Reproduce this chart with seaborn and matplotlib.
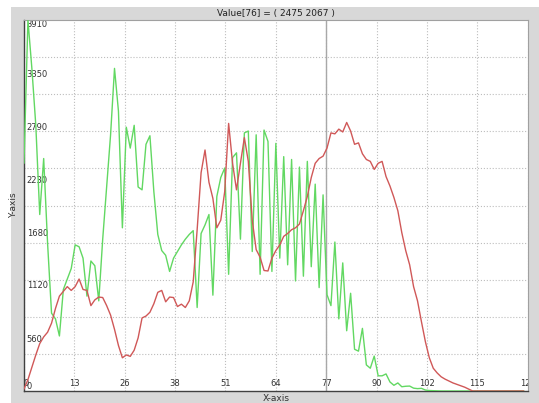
import numpy as np
import pandas as pd
import matplotlib
matplotlib.use("Agg")
import matplotlib.pyplot as plt
from matplotlib.patches import Rectangle
import seaborn as sns

# histogram values, one per bin (0..127)
red = [20, 120, 250, 380, 500, 570, 620, 715, 870, 1000,
       1050, 1100, 1060, 1100, 1180, 1070, 1060, 900, 960, 990,
       985, 900, 800, 650, 480, 350, 380, 365, 430, 560,
       770, 790, 830, 920, 1040, 1060, 940, 990, 985, 890,
       915, 880, 950, 1150, 1700, 2300, 2540, 2200, 2030, 1720,
       1800, 2100, 2820, 2400, 2120, 2400, 2670, 2420, 1800, 1490,
       1410, 1270, 1265, 1400, 1480, 1540, 1630, 1660, 1700, 1720,
       1760, 1900, 2050, 2250, 2400, 2450, 2475, 2560, 2720, 2710,
       2760, 2730, 2830, 2740, 2600, 2615, 2500, 2440, 2420, 2335,
       2400, 2420, 2260, 2160, 2040, 1900, 1670, 1480, 1330, 1100,
       950, 730, 520, 350, 240, 190, 150, 125, 105, 85,
       70, 55, 40, 20, 0, 0, 0, 0, 0, 0,
       0, 0, 0, 0, 0, 0, 0, 0]

green = [2400, 3910, 3400, 2800, 1860, 2450, 1550, 820, 760, 580,
         1070, 1180, 1290, 1540, 1520, 1400, 1000, 1370, 1320, 950,
         1600, 2150, 2700, 3400, 2950, 1720, 2780, 2560, 2800, 2150,
         2120, 2600, 2690, 2100, 1650, 1480, 1430, 1260, 1400, 1470,
         1540, 1600, 1650, 1690, 880, 1660, 1750, 1860, 1010, 2050,
         2250, 2350, 1230, 2460, 2510, 1600, 2720, 2740, 1470, 2700,
         1230, 2750, 2630, 1260, 2610, 1400, 2470, 1330, 2440, 1160,
         2360, 1210, 2420, 1310, 2180, 1090, 2067, 1015, 900, 1570,
         760, 1350, 635, 1030, 440, 420, 660, 275, 240, 368,
         160, 160, 180, 95, 60, 85, 45, 50, 52, 30,
         25, 28, 10, 5, 3, 2, 0, 0, 0, 0,
         0, 0, 0, 0, 0, 0, 0, 0, 0, 0,
         0, 0, 0, 0, 0, 0, 0, 0]

x_max = 128
y_max = 3910
cursor = 76
x_tick_labels = ["0", "13", "26", "38", "51", "64", "77", "90", "102", "115", "128"]
y_tick_labels = ["0", "560", "1120", "1680", "2230", "2790", "3350", "3910"]

df = pd.DataFrame({"bin": np.arange(len(red)), "red": red, "green": green})
df = df.melt(id_vars="bin", var_name="series", value_name="count")

sns.set_style("white")
plt.rcParams["font.family"] = ["DejaVu Sans"]

W, H = 539, 403
fig = plt.figure(figsize=(W / 100, H / 100), dpi=100)
fig.patch.set_facecolor("white")
bg = Rectangle((11 / W, 0), 1 - 11 / W, 1 - 7 / H, transform=fig.transFigure,
               facecolor="#d8d8d8", edgecolor="none", zorder=-5)
fig.add_artist(bg)

ax = fig.add_axes([24 / W, 12 / H, 503.7 / W, 371 / H])
ax.set_zorder(1)
ax.set_facecolor("white")

sns.lineplot(data=df, x="bin", y="count", hue="series", hue_order=["green", "red"],
             palette={"green": "#62d862", "red": "#d05858"}, linewidth=1.0,
             legend=False, ax=ax, zorder=3)

ax.set_xlim(0, x_max)
ax.set_ylim(0, y_max)

ax.set_xticks([x_max * k / 10 for k in range(11)])
ax.set_xticklabels(x_tick_labels)
ax.set_yticks([y_max * k / 7 for k in range(8)])
ax.set_yticklabels(y_tick_labels)
ax.set_yticks([y_max * k / 10 for k in range(11)], minor=True)

ax.tick_params(axis="x", direction="in", length=2.5, pad=-8.3, labelsize=6,
               colors="#333333", width=0.8)
ax.tick_params(axis="y", direction="in", length=2, pad=-2, labelsize=6,
               colors="#333333", width=0.8)
ax.tick_params(axis="y", which="minor", length=0)

for lbl in ax.get_yticklabels():
    lbl.set_ha("left")
ylbls = ax.get_yticklabels()
ylbls[0].set_va("bottom")
ylbls[-1].set_va("top")
xlbls = ax.get_xticklabels()
xlbls[0].set_ha("left")
for lbl in xlbls:
    lbl.set_clip_on(True)
    lbl.set_clip_box(ax.bbox)

ax.grid(True, axis="x", which="major", linestyle=":", color="#bdbdbd", linewidth=0.8)
ax.grid(True, axis="y", which="minor", linestyle=":", color="#bdbdbd", linewidth=0.8)
ax.grid(False, axis="y", which="major")
ax.axvline(x_max * 6 / 10, color="#a8a8a8", linewidth=1.0, zorder=1)

for side in ["left", "bottom"]:
    ax.spines[side].set_color("#404040")
    ax.spines[side].set_linewidth(1.0)
for side in ["top", "right"]:
    ax.spines[side].set_color("#a0a0a0")
    ax.spines[side].set_linewidth(0.8)

ax.set_title(f"Value[{cursor}] = ( {red[cursor]} {green[cursor]} )", fontsize=6.5,
             color="#222222", pad=3)
ax.set_xlabel("X-axis", fontsize=6.5, color="#333333")
ax.set_ylabel("Y-axis", fontsize=6.5, color="#333333")
ax.xaxis.set_label_coords(0.5, -0.008)
ax.yaxis.set_label_coords(-0.011, 0.5)

fig.savefig("out.png", dpi=100)
